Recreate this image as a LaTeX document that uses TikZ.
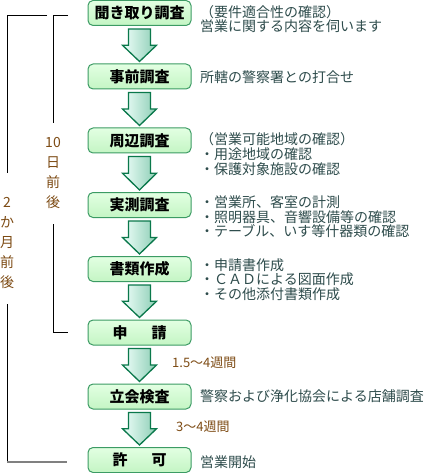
\documentclass[tikz,border=0pt]{standalone}
\usepackage{fontspec}
\setmainfont{Noto Sans CJK JP}
\usetikzlibrary{calc}
\definecolor{boxborder}{RGB}{60,155,100}
\definecolor{boxtop}{RGB}{226,255,226}
\definecolor{boxbot}{RGB}{196,245,196}
\definecolor{arrborder}{RGB}{10,120,75}
\definecolor{arrlight}{RGB}{238,255,250}
\definecolor{arrdark}{RGB}{140,205,180}
\definecolor{notecol}{RGB}{45,75,75}
\definecolor{browncol}{RGB}{125,75,20}
\tikzset{
  stepbox/.style={draw=boxborder, line width=1pt, rounded corners=5pt,
    top color=boxtop, bottom color=boxbot, minimum width=103pt,
    minimum height=25pt, inner sep=0pt, text=black,
    font=\fontsize{15}{15}\selectfont\bfseries},
  flowarrow/.style={draw=arrborder, line width=1.3pt, line join=miter,
    left color=arrlight, right color=arrdark},
  note/.style={anchor=west, inner sep=0pt, align=left, text=notecol,
    font=\fontsize{14}{14.6}\selectfont},
  period/.style={anchor=west, inner sep=0pt, text=browncol,
    font=\fontsize{13}{13}\selectfont},
  vlabel/.style={inner sep=0pt, align=center, text=browncol,
    font=\fontsize{14}{20}\selectfont},
  bracket/.style={draw=black, line width=0.9pt},
}
\newcommand\flowarr[2]{%
  \path[flowarrow] let \p1=($(#1.south)+(0,3)$), \p2=($(#2.north)+(0,-2)$),
    \p3=($(\p1)!0.5!(\p2)$) in
    ({\x1-11pt},\y1) -- ({\x1+11pt},\y1) -- ({\x1+11pt},\y3) --
    ({\x1+17pt},\y3) -- (\x1,\y2) -- ({\x1-17pt},\y3) --
    ({\x1-11pt},\y3) -- cycle;}
\begin{document}
\begin{tikzpicture}[x=1pt,y=-1pt]
\useasboundingbox (0,0) rectangle (429,473);
% boxes
\node[stepbox] (b1) at (139.5,13) {聞き取り調査};
\node[stepbox] (b2) at (139.5,76.5) {事前調査};
\node[stepbox] (b3) at (139.5,140.5) {周辺調査};
\node[stepbox] (b4) at (139.5,205) {実測調査};
\node[stepbox] (b5) at (139.5,269) {書類作成};
\node[stepbox] (b6) at (139.5,332.5) {申\hspace{24pt}請};
\node[stepbox] (b7) at (139.5,396.5) {立会検査};
\node[stepbox] (b8) at (139.5,460) {許\hspace{24pt}可};
% arrows
\flowarr{b1}{b2}
\flowarr{b2}{b3}
\flowarr{b3}{b4}
\flowarr{b4}{b5}
\flowarr{b5}{b6}
\flowarr{b6}{b7}
\flowarr{b7}{b8}
% notes
\node[note] (n1) at (200,19) {（要件適合性の確認）\\営業に関する内容を伺います};
\node[note] (n2) at (200,77) {所轄の警察署との打合せ};
\node[note] (n3) at (200,154) {（営業可能地域の確認）\\・用途地域の確認\\・保護対象施設の確認};
\node[note] (n4) at (200,217) {・営業所、客室の計測\\・照明器具、音響設備等の確認\\・テーブル、いす等什器類の確認};
\node[note] (n5) at (200,279.5) {・申請書作成\\・ＣＡＤによる図面作成\\・その他添付書類作成};
\node[note] (n7) at (200,396) {警察および浄化協会による店舗調査};
\node[note] (n8) at (200,462) {営業開始};
% periods
\node[period] (p1) at (172,363) {1.5～4週間};
\node[period] (p2) at (176,427) {3～4週間};
% vertical labels
\node[vlabel] (inl) at (53,173) {10\\日\\前\\後};
\node[vlabel] (outl) at (7,242.5) {2\\か\\月\\前\\後};
% brackets
\coordinate (o1) at (47,15);
\coordinate (o2) at (7,15);
\coordinate (o3) at (7,173);
\coordinate (o4) at (7,304);
\coordinate (o5) at (7,462);
\coordinate (o6) at (67,462);
\coordinate (i0) at (68,15);
\coordinate (i1) at (53,15);
\coordinate (i2) at (53,123);
\coordinate (i3) at (53,224);
\coordinate (i4) at (53,332);
\coordinate (i5) at (68,332);
\draw[bracket] (o1) -- (o2) -- (o3);
\draw[bracket] (o4) -- (o5);
\draw[draw=gray, line width=2pt] (o5) -- (o6);
\draw[bracket] (i0) -- (i1) -- (i2);
\draw[bracket] (i3) -- (i4) -- (i5);
\end{tikzpicture}
\end{document}
